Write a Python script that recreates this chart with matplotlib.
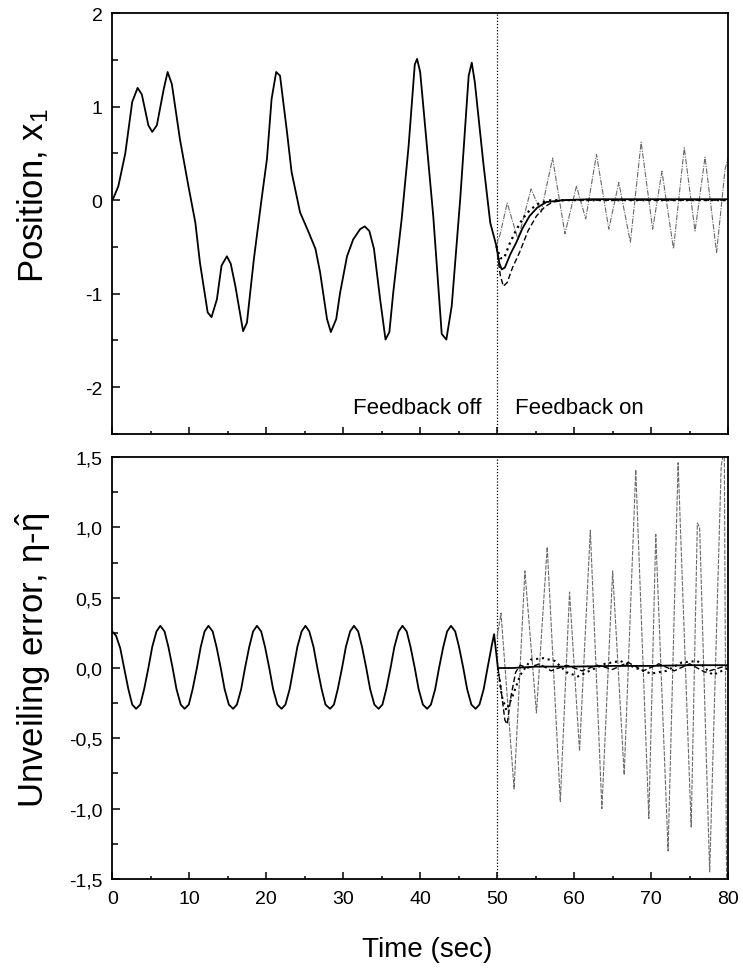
import matplotlib
matplotlib.use("Agg")
import matplotlib.pyplot as plt
from matplotlib.ticker import MultipleLocator

plt.rcParams['font.family'] = ['Liberation Sans', 'DejaVu Sans']
plt.rcParams['mathtext.fontset'] = 'custom'
plt.rcParams['mathtext.rm'] = 'Liberation Sans'
plt.rcParams['mathtext.it'] = 'Liberation Sans'
plt.rcParams['mathtext.bf'] = 'Liberation Sans:bold'

# ---------------- data ----------------
x_ticks = [0, 10, 20, 30, 40, 50, 60, 70, 80]
x_ticklabels = ['0', '10', '20', '30', '40', '50', '60', '70', '80']
top_yticks = [-2, -1, 0, 1, 2]
top_yticklabels = ['-2', '-1', '0', '1', '2']
bot_yticks = [-1.5, -1.0, -0.5, 0.0, 0.5, 1.0, 1.5]
bot_yticklabels = ['-1,5', '-1,0', '-0,5', '0,0', '0,5', '1,0', '1,5']

# Top panel: position x1, feedback off (0-50 s) then solid controller
t_pos = [0.0, 0.2, 0.8, 1.7, 2.6, 3.3, 3.85, 4.7, 5.2, 5.8, 6.7, 7.2, 7.75, 8.8, 9.9,
         10.8, 11.4, 12.4, 12.9, 13.6, 14.2, 14.9, 15.4, 16.0, 17.0, 17.5, 18.4, 19.4,
         20.1, 20.7, 21.3, 21.8, 22.7, 23.3, 24.4, 25.5, 26.4, 27.0, 27.9, 28.4, 29.1,
         29.6, 30.5, 31.3, 32.2, 32.8, 33.4, 34.0, 34.8, 35.5, 36.0, 36.5, 37.6, 38.5,
         39.3, 39.6, 40.0, 40.4, 41.7, 42.8, 43.4, 44.1, 45.2, 46.3, 46.7, 47.1, 48.2,
         49.1, 49.9,
         50.3, 50.6, 51.0, 51.7, 52.5, 53.3, 54.2, 55.2, 56.4, 58.5, 62.0, 70.0, 80.0]
x_pos = [0.0, 0.03, 0.15, 0.5, 1.05, 1.2, 1.13, 0.8, 0.73, 0.8, 1.19, 1.37, 1.24, 0.65, 0.15,
         -0.24, -0.67, -1.2, -1.25, -1.06, -0.7, -0.6, -0.68, -0.92, -1.4, -1.31, -0.63, 0.01,
         0.44, 1.08, 1.37, 1.33, 0.73, 0.3, -0.13, -0.34, -0.52, -0.77, -1.27, -1.41, -1.27,
         -0.99, -0.6, -0.42, -0.31, -0.28, -0.33, -0.52, -1.06, -1.49, -1.41, -0.99, -0.2, 0.58,
         1.45, 1.51, 1.37, 1.01, -0.17, -1.43, -1.49, -1.13, 0.01, 1.33, 1.47, 1.26, 0.4,
         -0.24, -0.49,
         -0.68, -0.74, -0.72, -0.58, -0.45, -0.30, -0.17, -0.08, -0.02, 0.0, 0.01, 0.01, 0.01]

t_pos_dash = [49.9, 50.4, 50.8, 51.3, 52.0, 52.9, 54.0, 55.1, 56.2, 57.2, 59.0, 80.0]
x_pos_dash = [-0.49, -0.80, -0.92, -0.88, -0.72, -0.56, -0.33, -0.17, -0.07, -0.02, 0.0, 0.0]

t_pos_dot = [49.9, 50.4, 50.9, 51.6, 52.4, 53.3, 54.3, 55.5, 57.0, 80.0]
x_pos_dot = [-0.49, -0.62, -0.62, -0.47, -0.33, -0.20, -0.10, -0.03, 0.0, 0.0]

t_pos_gray = [49.9, 50.4, 51.3, 52.7, 54.4, 55.7, 57.2, 58.8, 60.3, 61.5, 62.9, 64.5, 65.8,
              67.3, 68.7, 70.2, 71.4, 72.9, 74.3, 75.7, 77.0, 78.5, 79.6, 80.0]
x_pos_gray = [-0.49, -0.36, -0.03, -0.42, 0.12, -0.13, 0.45, -0.36, 0.15, -0.2, 0.49, -0.31, 0.19,
              -0.45, 0.62, -0.31, 0.31, -0.52, 0.56, -0.33, 0.46, -0.56, 0.33, 0.45]

# Bottom panel: unveiling error (~12 samples per cycle)
t_err = [0.0, 0.5, 1.05, 1.55, 2.1, 2.6, 3.1, 3.65, 4.15, 4.7, 5.2, 5.75,
         6.25, 6.8, 7.3, 7.85, 8.35, 8.9, 9.4, 9.95, 10.45, 11.0, 11.5, 12.0,
         12.5, 13.05, 13.55, 14.1, 14.6, 15.15, 15.7, 16.2, 16.75, 17.25, 17.8, 18.3,
         18.8, 19.35, 19.85, 20.4, 20.9, 21.45, 22.0, 22.5, 23.05, 23.55, 24.05, 24.6,
         25.1, 25.6, 26.15, 26.65, 27.2, 27.7, 28.3, 28.8, 29.3, 29.85, 30.35, 30.9,
         31.4, 31.95, 32.45, 33.0, 33.5, 34.05, 34.6, 35.1, 35.6, 36.15, 36.65, 37.2,
         37.7, 38.25, 38.75, 39.3, 39.8, 40.35, 40.9, 41.4, 41.95, 42.45, 43.0, 43.5,
         44.0, 44.55, 45.05, 45.6, 46.1, 46.65, 47.2, 47.7, 48.25, 48.75, 49.3, 49.6, 50.1,
         52.0, 55.0, 60.0, 65.0, 70.0, 75.0, 80.0]
e_err = [0.26, 0.23, 0.14, 0.0, -0.15, -0.26, -0.29, -0.26, -0.15, 0.0, 0.15, 0.26,
         0.30, 0.26, 0.15, 0.0, -0.15, -0.26, -0.29, -0.26, -0.15, 0.0, 0.15, 0.26,
         0.30, 0.26, 0.15, 0.0, -0.15, -0.26, -0.29, -0.26, -0.15, 0.0, 0.15, 0.26,
         0.30, 0.26, 0.15, 0.0, -0.15, -0.26, -0.29, -0.26, -0.15, 0.0, 0.15, 0.26,
         0.30, 0.26, 0.15, 0.0, -0.15, -0.26, -0.29, -0.26, -0.15, 0.0, 0.15, 0.26,
         0.30, 0.26, 0.15, 0.0, -0.15, -0.26, -0.29, -0.26, -0.15, 0.0, 0.15, 0.26,
         0.30, 0.26, 0.15, 0.0, -0.15, -0.26, -0.29, -0.26, -0.15, 0.0, 0.15, 0.26,
         0.30, 0.26, 0.15, 0.0, -0.15, -0.26, -0.29, -0.26, -0.15, 0.0, 0.16, 0.24, 0.0,
         0.0, 0.01, 0.01, 0.015, 0.015, 0.02, 0.02]

t_err_dash = [50.1, 50.5, 51.0, 51.3, 51.8, 52.4, 53.0, 54.0, 55.5, 57.0, 59.0, 61.0, 63.0,
              65.0, 67.0, 69.0, 71.0, 73.0, 75.0, 77.0, 80.0]
e_err_dash = [0.0, -0.15, -0.37, -0.40, -0.2, -0.03, 0.02, 0.0, 0.03, -0.02, 0.02, -0.02, 0.02,
              -0.01, 0.04, -0.02, 0.03, -0.02, 0.03, -0.03, 0.02]

t_err_dot = [50.1, 50.6, 51.2, 52.0, 53.0, 54.4, 56.0, 57.5, 59.0, 60.5, 62.0, 64.0, 66.0,
             68.0, 70.0, 72.0, 74.0, 76.0, 78.0, 80.0]
e_err_dot = [0.0, -0.2, -0.3, -0.2, -0.05, 0.06, 0.07, 0.05, -0.03, -0.06, -0.02, 0.03, 0.05,
             0.0, -0.04, -0.02, 0.04, 0.05, -0.05, 0.0]

t_err_gray = [50.0, 50.5, 52.2, 53.6, 55.1, 56.5, 58.2, 59.4, 60.7, 62.1, 63.6, 65.0, 66.5,
              68.0, 69.7, 70.6, 72.2, 73.5, 75.2, 76.0, 76.3, 77.6, 79.1, 79.5, 79.8]
e_err_gray = [0.22, 0.39, -0.86, 0.69, -0.32, 0.86, -0.95, 0.54, -0.59, 0.98, -1.0, 0.69, -0.76,
              1.41, -1.07, 0.95, -1.3, 1.46, -1.13, 1.03, 1.0, -1.45, 1.44, 1.55, -1.6]

switch_time = 50

# ---------------- figure ----------------
fig = plt.figure(figsize=(7.43, 9.70), dpi=100)
ax1 = fig.add_axes([0.151, 0.5515, 0.829, 0.434])
ax2 = fig.add_axes([0.151, 0.0928, 0.829, 0.435])

gray = '0.42'
for ax in (ax1, ax2):
    ax.set_xlim(0, 80)
    ax.set_xticks(x_ticks)
    ax.xaxis.set_minor_locator(MultipleLocator(5))
    for s in ax.spines.values():
        s.set_linewidth(1.3)
    ax.tick_params(which='both', direction='in', top=False, right=False,
                   labelsize=14, width=1.1)
    ax.tick_params(axis='x', which='major', length=5, pad=8)
    ax.tick_params(axis='x', which='minor', length=2.5)
    ax.tick_params(axis='y', which='major', length=6, pad=7)
    ax.tick_params(axis='y', which='minor', length=4)
    ax.axvline(switch_time, color='black', lw=0.9, ls=(0, (1, 1.5)))

# top panel
ax1.plot(t_pos_gray, x_pos_gray, color=gray, lw=0.8, ls=(0, (5, 1.2, 1, 1.2)))
ax1.plot(t_pos_dash, x_pos_dash, color='black', lw=1.0, ls=(0, (4, 2)))
ax1.plot(t_pos_dot, x_pos_dot, color='black', lw=1.6, ls=(0, (1, 1.8)))
ax1.plot(t_pos, x_pos, color='black', lw=1.3)
ax1.set_ylim(-2.5, 2)
ax1.set_yticks(top_yticks)
ax1.set_yticklabels(top_yticklabels)
ax1.yaxis.set_minor_locator(MultipleLocator(0.5))
ax1.set_xticklabels([])
ax1.text(48.0, -2.27, 'Feedback off', fontsize=16, ha='right', va='baseline')
ax1.text(52.3, -2.27, 'Feedback on', fontsize=16, ha='left', va='baseline')

# bottom panel
ax2.plot(t_err_gray, e_err_gray, color=gray, lw=0.8, ls=(0, (4, 1.2)))
ax2.plot(t_err_dash, e_err_dash, color='black', lw=1.0, ls=(0, (4, 2)))
ax2.plot(t_err_dot, e_err_dot, color='black', lw=1.5, ls=(0, (1, 1.8)))
ax2.plot(t_err, e_err, color='black', lw=1.3)
ax2.set_ylim(-1.5, 1.5)
ax2.set_yticks(bot_yticks)
ax2.set_yticklabels(bot_yticklabels)
ax2.yaxis.set_minor_locator(MultipleLocator(0.25))
ax2.set_xticklabels(x_ticklabels)

fig.text(33 / 743, 1 - 195 / 970, r'Position, x$_1$', fontsize=25, rotation=90,
         ha='center', va='center')
fig.text(33 / 743, 1 - 660 / 970, r'Unveiling error, $\eta$-$\hat{\eta}$', fontsize=25,
         rotation=90, ha='center', va='center')
fig.text(427 / 743, 1 - 957 / 970, 'Time (sec)', fontsize=20, ha='center', va='baseline')

fig.savefig('out.png', dpi=100)
